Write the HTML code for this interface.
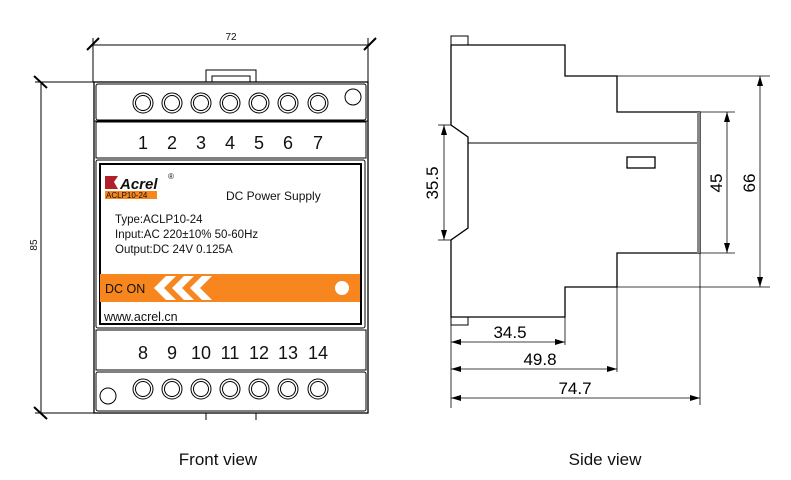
<!DOCTYPE html>
<html><head><style>body{margin:0;background:#fff}svg{display:block}</style></head><body>
<svg width="791" height="480" xmlns="http://www.w3.org/2000/svg" font-family="Liberation Sans, sans-serif">
<g stroke="#000" fill="none" stroke-width="1">
<line x1="93" y1="45" x2="370" y2="45"/>
<line x1="93" y1="38" x2="93" y2="82"/><line x1="368" y1="38" x2="368" y2="82"/>
<line x1="87" y1="50" x2="99" y2="38" stroke-width="2"/><line x1="364" y1="50" x2="376" y2="38" stroke-width="2"/>
<line x1="41" y1="82" x2="41" y2="413"/>
<line x1="35" y1="82" x2="94" y2="82"/><line x1="35" y1="413" x2="94" y2="413"/>
<line x1="34" y1="76" x2="47" y2="88" stroke-width="2"/><line x1="34" y1="407" x2="47" y2="419" stroke-width="2"/>
<rect x="206" y="70" width="50" height="12"/><rect x="212" y="76" width="38" height="6"/>
<rect x="94" y="82" width="274" height="331" stroke-width="1.3"/>
<rect x="96" y="84" width="270" height="36" rx="2"/>
<line x1="94" y1="121" x2="368" y2="121"/>
<rect x="96" y="122" width="270" height="36"/>
<rect x="96" y="160" width="269" height="168" rx="2"/>
<rect x="100" y="164" width="261" height="160" stroke-width="2"/>
<rect x="96" y="330" width="270" height="40"/>
<rect x="96" y="372" width="270" height="39" rx="2"/>
<line x1="206" y1="413" x2="206" y2="420"/><line x1="256" y1="413" x2="256" y2="420"/>
<g>
<circle cx="143" cy="103" r="10"/><circle cx="143" cy="103" r="7.5"/>
<circle cx="172" cy="103" r="10"/><circle cx="172" cy="103" r="7.5"/>
<circle cx="201" cy="103" r="10"/><circle cx="201" cy="103" r="7.5"/>
<circle cx="230" cy="103" r="10"/><circle cx="230" cy="103" r="7.5"/>
<circle cx="259" cy="103" r="10"/><circle cx="259" cy="103" r="7.5"/>
<circle cx="288" cy="103" r="10"/><circle cx="288" cy="103" r="7.5"/>
<circle cx="318" cy="103" r="10"/><circle cx="318" cy="103" r="7.5"/>
<circle cx="353" cy="97" r="8"/>
<circle cx="143" cy="389" r="10"/><circle cx="143" cy="389" r="7.5"/>
<circle cx="172" cy="389" r="10"/><circle cx="172" cy="389" r="7.5"/>
<circle cx="201" cy="389" r="10"/><circle cx="201" cy="389" r="7.5"/>
<circle cx="230" cy="389" r="10"/><circle cx="230" cy="389" r="7.5"/>
<circle cx="259" cy="389" r="10"/><circle cx="259" cy="389" r="7.5"/>
<circle cx="288" cy="389" r="10"/><circle cx="288" cy="389" r="7.5"/>
<circle cx="318" cy="389" r="10"/><circle cx="318" cy="389" r="7.5"/>
<circle cx="108" cy="396" r="8"/>
</g>
</g>
<rect x="100" y="274" width="260" height="28" fill="#f7861e"/>
<g fill="#fff"><polygon points="166,276 176,276 164,288 176,300 166,300 154,288"/><polygon points="184,276 194,276 182,288 194,300 184,300 172,288"/><polygon points="202,276 212,276 200,288 212,300 202,300 190,288"/></g>
<circle cx="342" cy="288" r="7" fill="#fff"/>
<rect x="105" y="191" width="52" height="8" fill="#f7861e"/>
<polygon points="105,176 118,176 114,182 118,189 105,189" fill="#b0202a"/>
<g fill="#111">
<text x="120" y="189" font-size="15" font-weight="bold" font-style="italic">Acrel</text>
<text x="168" y="179" font-size="8">®</text>
<text x="106" y="198" font-size="8">ACLP10-24</text>
<text x="226" y="200" font-size="12">DC Power Supply</text>
<text x="115" y="223" font-size="11.5">Type:ACLP10-24</text>
<text x="115" y="238" font-size="11.5">Input:AC 220±10% 50-60Hz</text>
<text x="115" y="253" font-size="11.5">Output:DC 24V 0.125A</text>
<text x="105" y="293" font-size="12.5">DC ON</text>
<text x="104" y="321" font-size="12.5">www.acrel.cn</text>
<text font-size="18" y="149" text-anchor="middle"><tspan x="143">1</tspan><tspan x="172">2</tspan><tspan x="201">3</tspan><tspan x="230">4</tspan><tspan x="259">5</tspan><tspan x="288">6</tspan><tspan x="318">7</tspan></text>
<text font-size="18" y="359" text-anchor="middle"><tspan x="143">8</tspan><tspan x="172">9</tspan><tspan x="201">10</tspan><tspan x="230">11</tspan><tspan x="259">12</tspan><tspan x="288">13</tspan><tspan x="318">14</tspan></text>
<text x="231" y="40" font-size="10" text-anchor="middle">72</text>
<text x="37" y="245" font-size="10" text-anchor="middle" transform="rotate(-90 37 245)">85</text>
<text x="218" y="465" font-size="17" text-anchor="middle">Front view</text>
<text x="605" y="465" font-size="17" text-anchor="middle">Side view</text>
</g>
<g stroke="#000" fill="none" stroke-width="1.3">
<polyline points="451,45 565,45 565,76 617,76 617,112 700,112 700,253 617,253 617,287 565,287 565,317 451,317 451,240 468,228 468,137 451,125 451,45"/>
<rect x="451" y="36" width="17" height="9" stroke-width="1"/>
<rect x="451" y="317" width="17" height="8" stroke-width="1"/>
<line x1="468" y1="143" x2="700" y2="143" stroke-width="1"/>
<rect x="627" y="157" width="28" height="11"/>
<rect x="697" y="112" width="3" height="141" fill="#888" stroke="none"/>
</g>
<g stroke="#000" fill="none" stroke-width="0.8">
<line x1="617" y1="76" x2="770" y2="76"/><line x1="617" y1="287" x2="770" y2="287"/>
<line x1="760" y1="76" x2="760" y2="287"/>
<line x1="700" y1="112" x2="735" y2="112"/><line x1="700" y1="253" x2="735" y2="253"/>
<line x1="727" y1="112" x2="727" y2="253"/>
<line x1="444" y1="125" x2="444" y2="240"/><line x1="438" y1="125" x2="451" y2="125"/><line x1="438" y1="240" x2="451" y2="240"/>
<line x1="451" y1="317" x2="451" y2="408"/><line x1="565" y1="317" x2="565" y2="345"/><line x1="617" y1="287" x2="617" y2="372"/><line x1="700" y1="253" x2="700" y2="405"/>
<line x1="451" y1="342" x2="565" y2="342"/><line x1="451" y1="369" x2="617" y2="369"/><line x1="451" y1="398" x2="700" y2="398"/>
</g>
<g fill="#000">
<polygon points="760,76 757,86 763,86"/><polygon points="760,287 757,277 763,277"/>
<polygon points="727,112 724,122 730,122"/><polygon points="727,253 724,243 730,243"/>
<polygon points="444,125 441,135 447,135"/><polygon points="444,240 441,230 447,230"/>
<polygon points="451,342 461,339 461,345"/><polygon points="565,342 555,339 555,345"/>
<polygon points="451,369 461,366 461,372"/><polygon points="617,369 607,366 607,372"/>
<polygon points="451,398 461,395 461,401"/><polygon points="700,398 690,395 690,401"/>
<text x="510" y="338" font-size="17" text-anchor="middle">34.5</text>
<text x="540" y="365" font-size="17" text-anchor="middle">49.8</text>
<text x="575" y="394" font-size="17" text-anchor="middle">74.7</text>
<text x="438" y="183" font-size="17" text-anchor="middle" transform="rotate(-90 438 183)">35.5</text>
<text x="722" y="183" font-size="17" text-anchor="middle" transform="rotate(-90 722 183)">45</text>
<text x="755" y="183" font-size="17" text-anchor="middle" transform="rotate(-90 755 183)">66</text>
</g>
</svg>
</body></html>
